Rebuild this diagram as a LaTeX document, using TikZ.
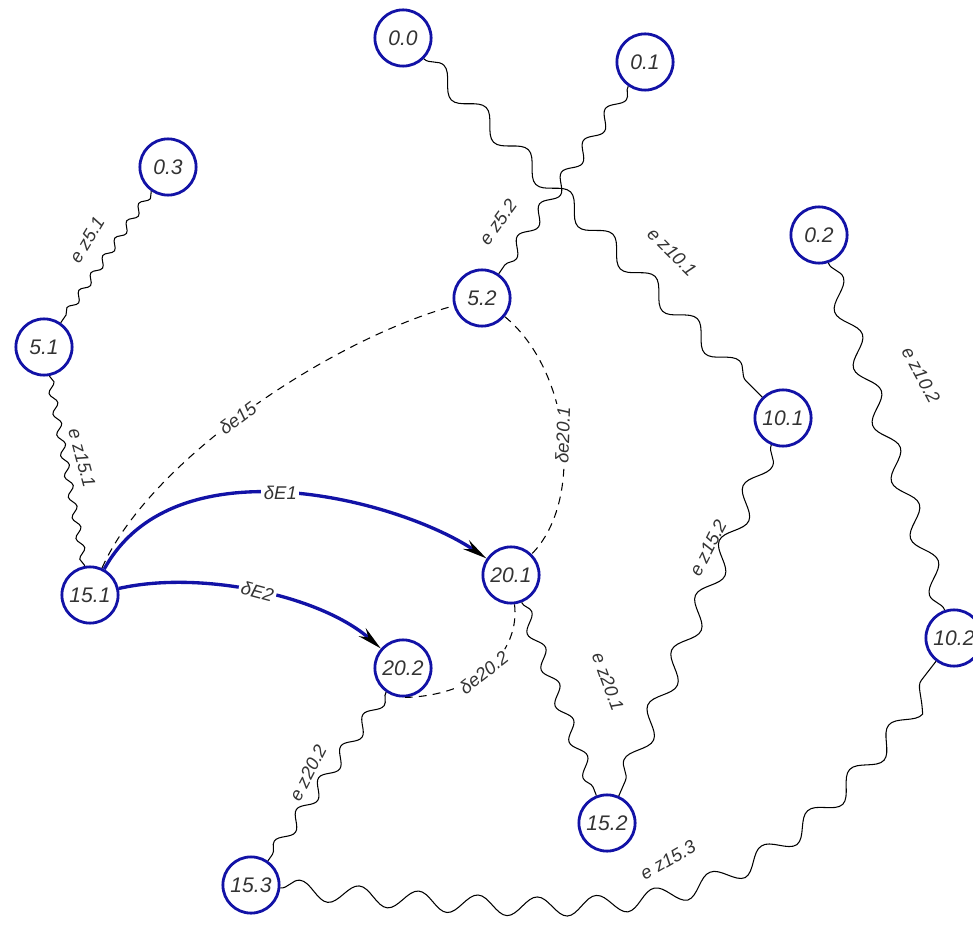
\documentclass[tikz,border=0pt]{standalone}
\usepackage{fontspec}
\setmainfont{Liberation Sans}
\usepackage{tikz}
\usetikzlibrary{arrows.meta,decorations.pathmorphing,positioning}
\usepackage{xcolor}
\definecolor{cblue}{HTML}{1212A6}
\definecolor{tgray}{HTML}{333333}
\tikzstyle{vtx}=[circle, draw=cblue, line width=1.6pt, minimum size=32pt, inner sep=1pt, font=\fontsize{12}{14}\selectfont\itshape, text=tgray]
\tikzstyle{l1}=[line width=0.6pt]
\tikzstyle{wv}=[l1, decorate, decoration={snake, segment length=12pt, amplitude=2pt}]
\tikzstyle{midwv}=[l1, decorate, decoration={snake, segment length=22pt, amplitude=3.5pt}]
\tikzstyle{bigwv}=[l1, decorate, decoration={snake, segment length=34pt, amplitude=5.5pt}]
\tikzstyle{dsh}=[l1, dash pattern=on 4.5pt off 3.5pt]
\tikzstyle{arr}=[line width=1.9pt, draw=cblue, -{Stealth[black, length=14pt, width=6pt]}]
\tikzstyle{lbl}=[font=\fontsize{10.5}{12}\selectfont\itshape, text=tgray, inner sep=1.5pt]

\begin{document}
\begin{tikzpicture}[x=0.02cm, y=-0.02cm]
    \useasboundingbox (0,0) rectangle (973,925);
    \node[vtx] at (403,38) (n00) {0.0};
    \node[vtx] at (645,62) (n01) {0.1};
    \node[vtx] at (168,167) (n03) {0.3};
    \node[vtx] at (819,235) (n02) {0.2};
    \node[vtx] at (482,298) (n52) {5.2};
    \node[vtx] at (44,347) (n51) {5.1};
    \node[vtx] at (783,418) (n101) {10.1};
    \node[vtx] at (90,595) (n151) {15.1};
    \node[vtx] at (511,575) (n201) {20.1};
    \node[vtx] at (403,668) (n202) {20.2};
    \node[vtx] at (954,638) (n102) {10.2};
    \node[vtx] at (607,823) (n152) {15.2};
    \node[vtx] at (251,885) (n153) {15.3};

    \draw[bigwv] (n00) -- (n101);
    \draw[midwv] (n01) -- (n52);
    \draw[wv] (n03) -- (n51);
    \draw[wv] (n51) -- (n151);
    \draw[bigwv] (n02) -- (n102);
    \draw[bigwv] (n101) -- (n152);
    \draw[midwv] (n201) -- (n152);
    \draw[midwv] (n202) -- (n153);
    \draw[bigwv] (n153) .. controls (680,928) and (740,915) .. (n102);

    \node[lbl, rotate=59] at (87,240) (lz51) {e z5.1};
    \node[lbl, rotate=54] at (498,222) (lz52) {e z5.2};
    \node[lbl, rotate=-45] at (672,252) (lz101) {e z10.1};
    \node[lbl, rotate=-62] at (921,375) (lz102) {e z10.2};
    \node[lbl, rotate=-75] at (82,458) (lz151) {e z15.1};
    \node[lbl, rotate=63] at (708,548) (lz152) {e z15.2};
    \node[lbl, rotate=-70] at (608,682) (lz201) {e z20.1};
    \node[lbl, rotate=63] at (308,773) (lz202) {e z20.2};
    \node[lbl, rotate=30] at (668,860) (lz153) {e z15.3};

    \draw[dsh] (n151) .. controls (150,460) and (330,340) .. node[lbl, fill=white, pos=0.47, rotate=37] (de15) {δe15} (n52);
    \draw[dsh] (n52) .. controls (570,370) and (585,500) .. node[lbl, fill=white, pos=0.5, rotate=88] (de201) {δe20.1} (n201);
    \draw[dsh] (n201) .. controls (520,650) and (480,696) .. node[lbl, fill=white, pos=0.55, rotate=38] (de202) {δe20.2} (n202.south);

    \draw[arr] (n151) .. controls (175,440) and (400,500) .. node[lbl, fill=white, pos=0.48] (dE1) {δE1} (n201);
    \draw[arr] (n151) .. controls (200,570) and (320,595) .. node[lbl, fill=white, pos=0.5, rotate=-15] (dE2) {δE2} (n202);
\end{tikzpicture}
\end{document}
